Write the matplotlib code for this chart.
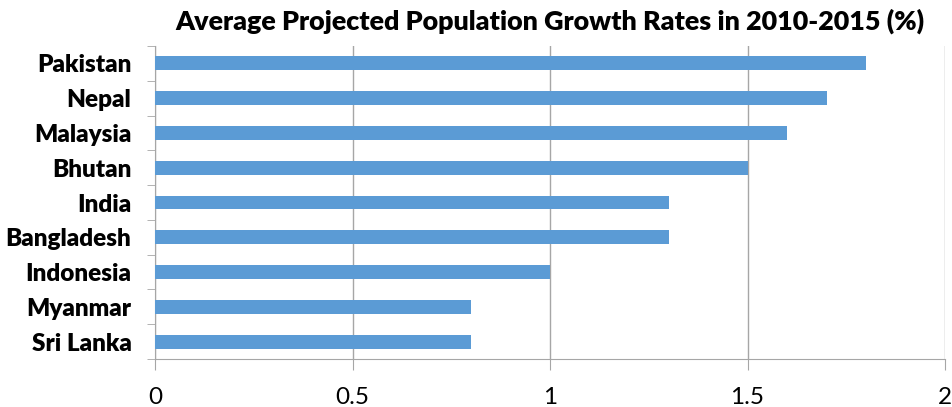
import matplotlib.pyplot as plt

countries = ['Pakistan', 'Nepal', 'Malaysia', 'Bhutan', 'India',
             'Bangladesh', 'Indonesia', 'Myanmar', 'Sri Lanka']
growth = [1.8, 1.7, 1.6, 1.5, 1.3, 1.3, 1.0, 0.8, 0.8]
xticks = [0, 0.5, 1, 1.5, 2]
xtick_labels = ['0', '0.5', '1', '1.5', '2']

plt.rcParams['font.family'] = ['Lato', 'DejaVu Sans']

fig = plt.figure(figsize=(9.52, 4.07), dpi=100)
ax = fig.add_axes([155 / 952, 1 - 359 / 407, 790 / 952, 313 / 407])

# bottom-to-top so Pakistan ends up on top
ypos = list(range(len(countries)))[::-1]
ax.barh(ypos, growth, height=0.4, color='#5B9BD5', zorder=3)

ax.set_xlim(0, 2)
ax.set_ylim(-0.5, len(countries) - 0.5)
ax.set_xticks(xticks)
ax.set_xticklabels(xtick_labels, fontsize=17.5)
ax.set_yticks(ypos)
ax.set_yticklabels(countries, fontsize=17.5, fontweight='heavy')
ax.tick_params(axis='y', length=0, pad=17)
ax.tick_params(axis='x', length=8, color='#A6A6A6', pad=12)

# category separators as minor ticks on the y axis
ax.set_yticks([y - 0.5 for y in range(len(countries) + 1)], minor=True)
ax.tick_params(axis='y', which='minor', length=6, color='#A6A6A6')

ax.grid(axis='x', color='#A6A6A6', linewidth=1, zorder=0)
for side in ['top', 'right']:
    ax.spines[side].set_visible(False)
ax.spines['left'].set_color('#A6A6A6')
ax.spines['bottom'].set_color('#A6A6A6')

ax.set_title('Average Projected Population Growth Rates in 2010-2015 (%)',
             fontsize=19.4, fontweight='heavy', pad=12)

fig.savefig('out.png', dpi=100)
